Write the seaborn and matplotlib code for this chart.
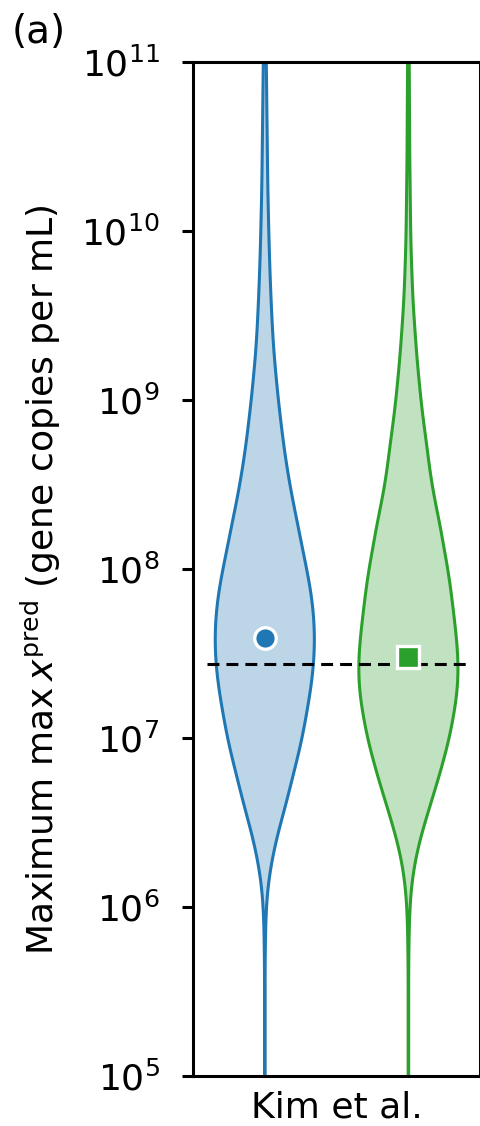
import numpy as np
import pandas as pd
import matplotlib
matplotlib.use("Agg")
import matplotlib.pyplot as plt
import seaborn as sns
from matplotlib.ticker import LogLocator, NullLocator

# ---- data -------------------------------------------------------------
study = "Kim et al."
models = ["Model I", "Model II"]
line_colors = ["#1f77b4", "#2ca02c"]
fill_colors = ["#bcd6e8", "#c0e2c0"]
marker_shapes = ["o", "s"]

# log10 grid of the predicted maxima (4.5 ... 11.5, step 1/8)
log_bins = [4.500, 4.625, 4.750, 4.875, 5.000, 5.125, 5.250, 5.375,
            5.500, 5.625, 5.750, 5.875, 6.000, 6.125, 6.250, 6.375,
            6.500, 6.625, 6.750, 6.875, 7.000, 7.125, 7.250, 7.375,
            7.500, 7.625, 7.750, 7.875, 8.000, 8.125, 8.250, 8.375,
            8.500, 8.625, 8.750, 8.875, 9.000, 9.125, 9.250, 9.375,
            9.500, 9.625, 9.750, 9.875, 10.000, 10.125, 10.250, 10.375,
            10.500, 10.625, 10.750, 10.875, 11.000, 11.125, 11.250, 11.375,
            11.500]
# number of posterior draws falling in each grid cell
counts_model1 = [1, 1, 1, 1, 1, 1, 1, 1,
                 1, 1, 2, 3, 6, 12, 25, 42,
                 64, 88, 108, 130, 150, 165, 180, 192,
                 199, 200, 195, 184, 168, 150, 134, 116,
                 100, 86, 74, 64, 54, 46, 38, 32,
                 28, 24, 21, 18, 16, 14, 12, 11,
                 10, 9, 8, 7, 6, 5, 4, 3,
                 2]
counts_model2 = [1, 1, 1, 1, 1, 1, 1, 1,
                 1, 1, 2, 3, 6, 12, 24, 42,
                 66, 92, 118, 142, 164, 180, 194, 200,
                 198, 190, 180, 170, 158, 142, 128, 110,
                 94, 82, 72, 60, 50, 42, 34, 28,
                 22, 17, 14, 11, 9, 8, 7, 6,
                 5, 5, 4, 4, 3, 3, 2, 2,
                 1]

model_means = [3.9e7, 3.0e7]
observed_max = 2.74e7

# ---- tidy frames --------------------------------------------------------
frames = []
for name, cnt in zip(models, [counts_model1, counts_model2]):
    vals = 10.0 ** np.repeat(log_bins, cnt)
    frames.append(pd.DataFrame({"study": study, "model": name, "value": vals}))
draws = pd.concat(frames, ignore_index=True)
means = pd.DataFrame({"study": study, "model": models, "value": model_means})

# ---- figure -------------------------------------------------------------
sns.set_style("ticks")
plt.rcParams["font.family"] = ["DejaVu Sans"]
plt.rcParams["mathtext.fontset"] = "dejavusans"
for key in ["text.color", "axes.labelcolor", "xtick.color", "ytick.color",
            "axes.edgecolor"]:
    plt.rcParams[key] = "black"

W, H = 480, 1126
fig = plt.figure(figsize=(W / 100, H / 100), dpi=100)
ax = fig.add_axes([193 / W, 1 - 1076 / H, (480.2 - 193) / W, (1076 - 62) / H])

violin_kws = dict(data=draws, x="study", y="value", hue="model",
                  hue_order=models, log_scale=True, width=1.0, gap=0.31,
                  cut=0, inner=None, density_norm="width", bw_method=0.11,
                  gridsize=300, saturation=1, legend=False, ax=ax)
sns.violinplot(**violin_kws, palette=fill_colors, linewidth=0)
sns.violinplot(**violin_kws, palette=line_colors, fill=False, linewidth=2.2)

ax.hlines(observed_max, -0.45, 0.46, colors="black", linewidth=2.2,
          linestyles=(0, (3.9, 2.3)), zorder=2.5)

sns.pointplot(data=means, x="study", y="value", hue="model",
              hue_order=models, palette=line_colors, markers=marker_shapes,
              linestyles="none", dodge=0.5, errorbar=None,
              markersize=15.5, markeredgewidth=2.4, markeredgecolor="white",
              legend=False, ax=ax, zorder=3)

ax.set_xlim(-0.5, 0.5)
ax.set_yscale("log")
ax.set_ylim(1e5, 1e11)
ax.yaxis.set_major_locator(LogLocator(base=10, numticks=12))
ax.yaxis.set_minor_locator(NullLocator())

for side in ["left", "right", "top", "bottom"]:
    ax.spines[side].set_visible(True)
    ax.spines[side].set_linewidth(2.2)
    ax.spines[side].set_color("black")

ax.tick_params(axis="y", which="major", length=7.9, width=2.2,
               labelsize=26, pad=16, color="black", labelcolor="black")
ax.tick_params(axis="x", length=0, labelsize=26, pad=10.5,
               labelcolor="black")
ax.set_xlabel("")
ax.set_ylabel(r"Maximum $\max\,x^{\mathrm{pred}}$ (gene copies per mL)",
              fontsize=26, color="black")
ax.yaxis.set_label_coords(-0.453, 0.489)

fig.text(12 / W, 1 - 43 / H, "(a)", fontsize=28, ha="left", va="baseline",
         color="black")

fig.savefig("out.png", dpi=100)
